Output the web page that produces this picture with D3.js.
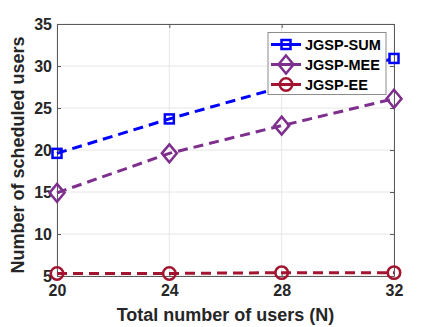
<!DOCTYPE html>
<html>
<head>
<meta charset="utf-8">
<script src="https://cdn.jsdelivr.net/npm/d3@7"></script>
<style>
  body { margin: 0; background: #fff; }
  text { font-family: "Liberation Sans", Arial, sans-serif; font-weight: bold; fill: #262626; }
</style>
</head>
<body>
<script>
// values
var users = [20, 24, 28, 32];
var sumVals = [19.6, 23.7, 27.5, 30.9];
var meeVals = [14.9, 19.6, 22.9, 26.1];
var eeVals = [5.3, 5.3, 5.4, 5.4];
var yTicks = [5, 10, 15, 20, 25, 30, 35];
var seriesNames = ["JGSP-SUM", "JGSP-MEE", "JGSP-EE"];

var W = 436, H = 327;
var margin = {left: 57, right: 42, top: 24, bottom: 51};

var svg = d3.select("body").append("svg")
    .attr("width", W)
    .attr("height", H);

var x = d3.scaleLinear().domain([20, 32]).range([margin.left, W - margin.right]);
var y = d3.scaleLinear().domain([5, 35]).range([H - margin.bottom, margin.top]);

var series = [
  {name: seriesNames[0], vals: sumVals, color: "#0000ff", marker: "square"},
  {name: seriesNames[1], vals: meeVals, color: "#7e2f8e", marker: "diamond"},
  {name: seriesNames[2], vals: eeVals, color: "#a2142f", marker: "circle"}
];

// grid
svg.append("g").selectAll("line").data(users).enter().append("line")
    .attr("x1", d => x(d)).attr("x2", d => x(d))
    .attr("y1", y(5)).attr("y2", y(35))
    .attr("stroke", "#e6e6e6").attr("stroke-width", 1);
svg.append("g").selectAll("line").data(yTicks).enter().append("line")
    .attr("x1", x(20)).attr("x2", x(32))
    .attr("y1", d => y(d)).attr("y2", d => y(d))
    .attr("stroke", "#e6e6e6").attr("stroke-width", 1);

// axes (ticks pointing inward like matlab)
var axisColor = "#5a5a5a";
function styleAxis(g) {
  g.selectAll(".domain").attr("stroke", axisColor);
  g.selectAll(".tick line").attr("stroke", axisColor);
  g.selectAll(".tick text").attr("fill", "#262626").style("font-size", "16px")
      .style("font-family", "Liberation Sans, Arial, sans-serif").style("font-weight", "bold");
}
svg.append("g").attr("transform", "translate(0," + y(5) + ")")
    .call(d3.axisBottom(x).tickValues(users).tickSizeInner(-4).tickSizeOuter(0).tickPadding(9))
    .call(styleAxis);
svg.append("g").attr("transform", "translate(" + x(20) + ",0)")
    .call(d3.axisLeft(y).tickValues(yTicks).tickSizeInner(-4).tickSizeOuter(0).tickPadding(5))
    .call(styleAxis);
svg.append("g").attr("transform", "translate(0," + y(35) + ")")
    .call(d3.axisTop(x).tickValues(users).tickSizeInner(-4).tickSizeOuter(0).tickFormat(""))
    .call(styleAxis);
svg.append("g").attr("transform", "translate(" + x(32) + ",0)")
    .call(d3.axisRight(y).tickValues(yTicks).tickSizeInner(-4).tickSizeOuter(0).tickFormat(""))
    .call(styleAxis);

// marker drawing helper
function drawMarker(g, type, cx, cy, color) {
  if (type === "square") {
    g.append("rect").attr("x", cx - 4.5).attr("y", cy - 4.5).attr("width", 9).attr("height", 9)
        .attr("fill", "none").attr("stroke", color).attr("stroke-width", 2.5);
  } else if (type === "diamond") {
    g.append("path")
        .attr("d", "M" + cx + "," + (cy - 9) + "L" + (cx + 7.5) + "," + cy + "L" + cx + "," + (cy + 9) + "L" + (cx - 7.5) + "," + cy + "Z")
        .attr("fill", "none").attr("stroke", color).attr("stroke-width", 2.5);
  } else {
    g.append("circle").attr("cx", cx).attr("cy", cy).attr("r", 6.2)
        .attr("fill", "none").attr("stroke", color).attr("stroke-width", 2.5);
  }
}

var line = d3.line().x((d, i) => x(users[i])).y(d => y(d));

series.forEach(function(s) {
  var g = svg.append("g");
  g.append("path").datum(s.vals)
      .attr("d", line)
      .attr("fill", "none")
      .attr("stroke", s.color)
      .attr("stroke-width", 3)
      .attr("stroke-dasharray", "10,6");
  s.vals.forEach(function(v, i) {
    drawMarker(g, s.marker, x(users[i]), y(v), s.color);
  });
});

// legend
var lg = svg.append("g").attr("transform", "translate(268,32.5)");
lg.append("rect").attr("width", 118).attr("height", 62)
    .attr("fill", "#fff").attr("stroke", "#8c8c8c").attr("stroke-width", 1);
series.forEach(function(s, i) {
  var yy = 12 + i * 20;
  lg.append("line").attr("x1", 3).attr("x2", 33).attr("y1", yy).attr("y2", yy)
      .attr("stroke", s.color).attr("stroke-width", 3);
  drawMarker(lg, s.marker, 18, yy, s.color);
  lg.append("text").attr("x", 37).attr("y", yy + 5.5)
      .style("font-size", "14.5px").attr("fill", "#000").style("fill", "#000").text(s.name);
});

// axis labels
svg.append("text")
    .attr("x", (x(20) + x(32)) / 2).attr("y", 321)
    .attr("text-anchor", "middle")
    .style("font-size", "18px")
    .text("Total number of users (N)");
svg.append("text")
    .attr("transform", "translate(24," + ((y(5) + y(35)) / 2 + 5) + ") rotate(-90)")
    .attr("text-anchor", "middle")
    .style("font-size", "18px")
    .text("Number of scheduled users");
</script>
</body>
</html>
